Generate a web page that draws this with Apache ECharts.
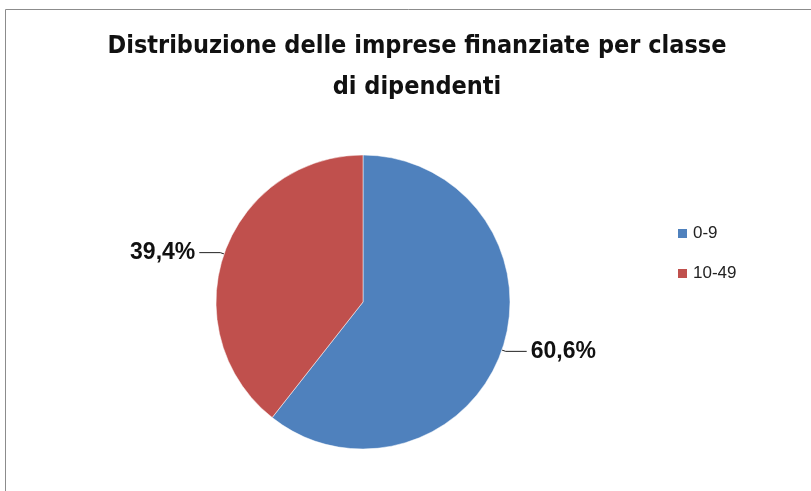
<!DOCTYPE html>
<html>
<head>
<meta charset="utf-8">
<script src="https://cdn.jsdelivr.net/npm/echarts@6/dist/echarts.min.js"></script>
<style>html,body{margin:0;padding:0;background:#fff;}#c{width:811px;height:491px;}</style>
</head>
<body>
<div id="c"></div>
<script>
const titleText = 'Distribuzione delle imprese finanziate per classe\ndi dipendenti';
const categories = ['0-9', '10-49'];
const values = [60.6, 39.4];
const colors = ['#4F81BD', '#C0504D'];

const chart = echarts.init(document.getElementById('c'), null, {renderer: 'canvas'});
chart.setOption({
  backgroundColor: '#ffffff',
  animation: false,
  graphic: [{
    type: 'rect',
    shape: {x: 5.5, y: 9.5, width: 900, height: 600},
    style: {fill: 'none', stroke: '#8c8c8c', lineWidth: 1},
    silent: true
  }],
  title: {
    text: titleText,
    left: 412,
    textAlign: 'center',
    top: 21,
    textStyle: {
      fontFamily: "'Liberation Sans Narrow', 'DejaVu Sans Condensed', sans-serif",
      fontWeight: 'bold',
      fontSize: 25,
      lineHeight: 41,
      color: '#111111'
    }
  },
  legend: {
    orient: 'vertical',
    left: 671,
    top: 220,
    itemWidth: 11,
    itemHeight: 11,
    itemGap: 23,
    icon: 'rect',
    data: categories,
    textStyle: {fontFamily: "'Liberation Sans', sans-serif", fontSize: 17, color: '#222222'}
  },
  series: [{
    type: 'pie',
    center: [363, 302],
    radius: 147,
    startAngle: 90,
    clockwise: true,
    data: categories.map((c, i) => ({name: c, value: values[i], itemStyle: {color: colors[i]}})),
    itemStyle: {borderColor: '#ffffff', borderWidth: 0.5},
    label: {
      show: true,
      position: 'outside',
      formatter: p => p.value.toFixed(1).replace('.', ',') + '%',
      fontFamily: "'Liberation Sans', sans-serif",
      fontWeight: 'bold',
      fontSize: 23,
      color: '#111111',
      distanceToLabelLine: 4
    },
    labelLine: {
      show: true,
      length: 4,
      length2: 21,
      lineStyle: {color: '#222222', width: 1}
    }
  }]
});
</script>
</body>
</html>
